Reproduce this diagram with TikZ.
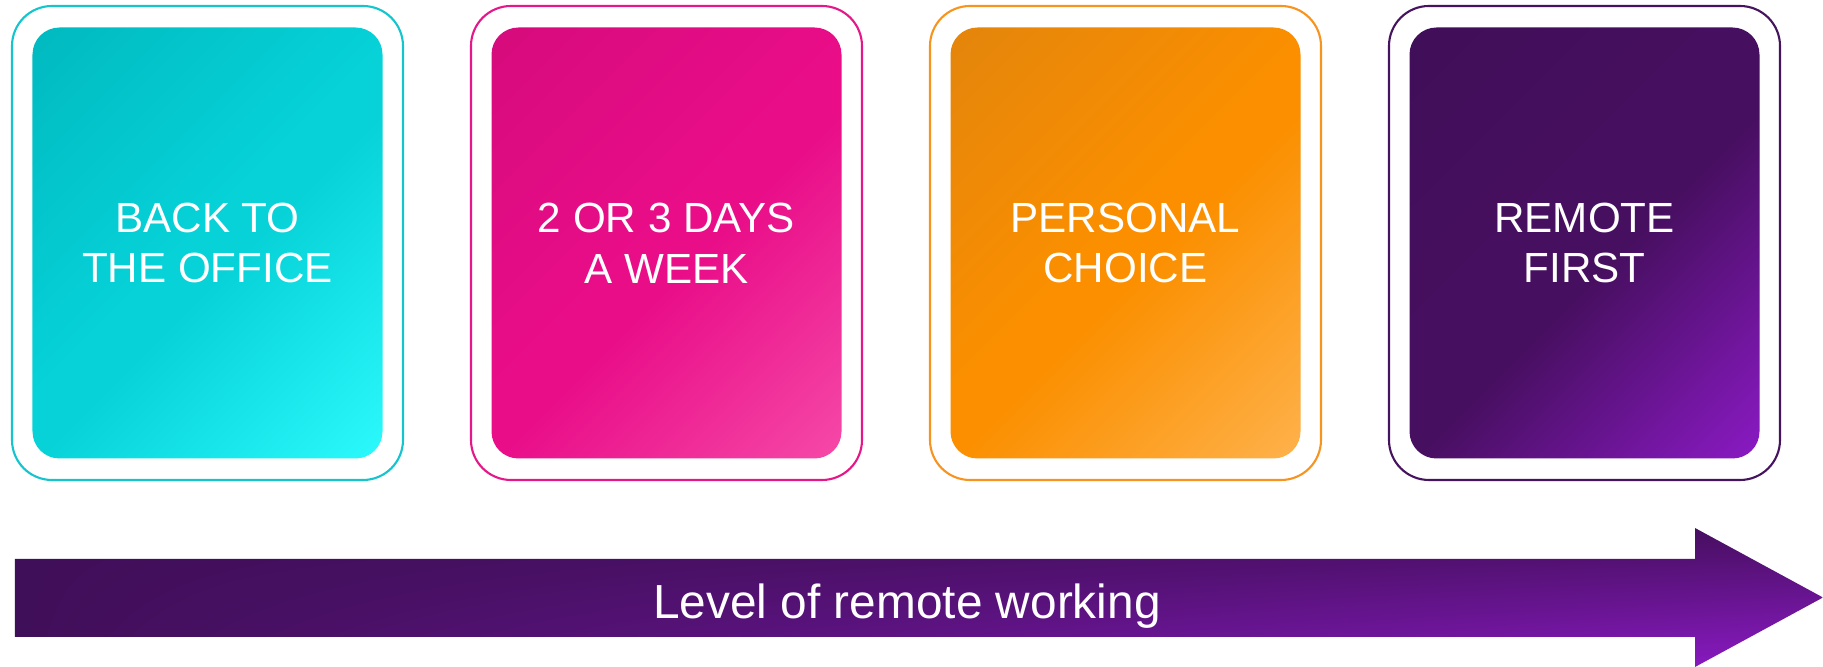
\documentclass[tikz,border=0pt]{standalone}
\usepackage{fontspec}
\setmainfont{Liberation Sans}
\usetikzlibrary{shadings}

\definecolor{tealA}{HTML}{00B9BF}
\definecolor{tealB}{HTML}{06D2D8}
\definecolor{tealC}{HTML}{2CFAFC}
\definecolor{tealEdge}{HTML}{15C5CD}
\definecolor{pinkA}{HTML}{D60B7C}
\definecolor{pinkB}{HTML}{E90D88}
\definecolor{pinkC}{HTML}{F64AA8}
\definecolor{pinkEdge}{HTML}{E5188A}
\definecolor{orangeA}{HTML}{E3850C}
\definecolor{orangeB}{HTML}{FB8F00}
\definecolor{orangeC}{HTML}{FEB24C}
\definecolor{orangeEdge}{HTML}{F79420}
\definecolor{plumA}{HTML}{400F59}
\definecolor{plumB}{HTML}{470F60}
\definecolor{plumC}{HTML}{8C1AC6}
\definecolor{plumEdge}{HTML}{46135F}

% axis shading with a wider band of the middle colour
\makeatletter
\pgfdeclareverticalshading[tikz@axis@top,tikz@axis@middle,tikz@axis@bottom]{cardaxis}{100bp}{
	color(0bp)=(tikz@axis@bottom); color(14bp)=(tikz@axis@bottom);
	color(46bp)=(tikz@axis@middle); color(52bp)=(tikz@axis@middle);
	color(86bp)=(tikz@axis@top); color(100bp)=(tikz@axis@top)}
\makeatother

\tikzset{
	frame/.style = {rectangle, rounded corners = 0.4cm, line width = 0.6pt,
		minimum width = 3.91cm, minimum height = 4.74cm, inner sep = 0pt},
	card/.style = {rectangle, rounded corners = 0.27cm,
		minimum width = 3.5cm, minimum height = 4.31cm, inner sep = 0pt,
		text = white, align = center,
		font = \fontsize{12}{14.5}\selectfont},
	cardshade/.style n args = {3}{top color = #1, bottom color = #3,
		middle color = #2, shading = cardaxis, shading angle = 45}
}

\begin{document}
\begin{tikzpicture}
	\useasboundingbox (0,0) rectangle (18.23,6.67);
	% the four options
	\node[frame,draw = tealEdge] (officeframe) at (2.075,4.24) {};
	\node[card,cardshade = {tealA}{tealB}{tealC}] (office) at (officeframe.center) {BACK TO\\THE OFFICE};
	\node[frame,draw = pinkEdge] (daysframe) at (6.665,4.24) {};
	\node[card,cardshade = {pinkA}{pinkB}{pinkC}] (days) at (daysframe.center) {2 OR 3 DAYS\\A WEEK};
	\node[frame,draw = orangeEdge] (choiceframe) at (11.255,4.24) {};
	\node[card,cardshade = {orangeA}{orangeB}{orangeC}] (choice) at (choiceframe.center) {PERSONAL\\CHOICE};
	\node[frame,draw = plumEdge] (remoteframe) at (15.845,4.24) {};
	\node[card,cardshade = {plumA}{plumB}{plumC}] (remote) at (remoteframe.center) {REMOTE\\FIRST};
	% scale arrow underneath
	\shade[upper left = plumA, lower left = plumA, upper right = plumB, lower right = plumC]
		(0.15,1.08) -- (16.95,1.08) -- (16.95,1.39) -- (18.23,0.695)
		-- (16.95,0) -- (16.95,0.30) -- (0.15,0.30) -- cycle;
	\node[text = white, font = \fontsize{13.6}{16}\selectfont, anchor = base] (scale) at (9.07,0.48) {Level of remote working};
\end{tikzpicture}
\end{document}
